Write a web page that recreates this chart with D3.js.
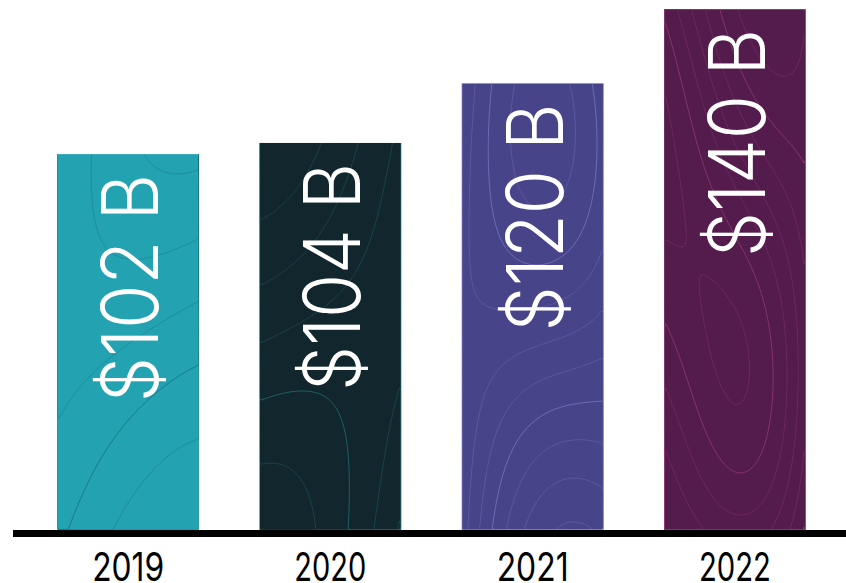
<!DOCTYPE html>
<html>
<head>
<meta charset="utf-8">
<script src="https://cdn.jsdelivr.net/npm/d3@7"></script>
<style>
  body { margin: 0; background: #fff; }
  svg { display: block; }
</style>
</head>
<body>
<svg id="chart" width="846" height="583"></svg>
<script>
// revenue per year
const years = ['2019', '2020', '2021', '2022'];
const values = [101, 104, 120, 140];
const labels = ['$102 B', '$104 B', '$120 B', '$140 B'];
const colors = ['#23a2b2', '#12262d', '#47448a', '#541b4d'];
const lineColors = ['#13606c', '#238a8d', '#8a86d0', '#a8457f'];

const svg = d3.select('#chart'),
  width = +svg.attr('width'),
  height = +svg.attr('height');

const x = d3.scaleBand()
  .domain(years)
  .range([27, 836])
  .paddingInner(0.3)
  .paddingOuter(0.15);

const y = d3.scaleLinear().domain([0, 140]).range([530, 9]);

const defs = svg.append('defs');

const bars = svg.selectAll('g.bar')
  .data(years)
  .join('g')
  .attr('class', 'bar');

bars.each(function (d, i) {
  defs.append('clipPath')
    .attr('id', 'clip' + i)
    .append('rect')
    .attr('x', x(d))
    .attr('y', y(values[i]))
    .attr('width', x.bandwidth())
    .attr('height', y(0) - y(values[i]));
});

bars.append('rect')
  .attr('x', d => x(d))
  .attr('y', (d, i) => y(values[i]))
  .attr('width', x.bandwidth())
  .attr('height', (d, i) => y(0) - y(values[i]))
  .attr('fill', (d, i) => colors[i]);

// decorative topo texture (not data)
const gw = 40, gh = 140;
bars.each(function (d, i) {
  const grid = new Array(gw * gh);
  const a = 0.5 + i * 0.21, b = 0.8 + i * 0.13, c = i * 1.9;
  for (let r = 0; r < gh; ++r) {
    for (let k = 0; k < gw; ++k) {
      const u = k / gw, v = r / gh;
      grid[r * gw + k] = Math.sin(u * 2.5 * a + c) * Math.cos(v * 3 * b)
        + 0.7 * Math.sin((u * 0.6 + v) * 3 + c * 0.5)
        + 0.5 * u;
    }
  }
  const contours = d3.contours().size([gw, gh]).thresholds(9)(grid);
  const sx = x.bandwidth() / gw, sy = (y(0) - y(140)) / gh;
  const g = d3.select(this).append('g')
    .attr('clip-path', 'url(#clip' + i + ')')
    .append('g')
    .attr('transform', 'translate(' + x(d) + ',' + y(140) + ') scale(' + sx + ',' + sy + ')');
  g.selectAll('path')
    .data(contours)
    .join('path')
    .attr('d', d3.geoPath())
    .attr('fill', 'none')
    .attr('stroke', lineColors[i])
    .attr('stroke-opacity', (c, j) => j % 4 === 2 ? 0.6 : 0.3)
    .attr('vector-effect', 'non-scaling-stroke')
    .attr('stroke-width', 1);
});

// value labels, rotated inside the bars
bars.append('text')
  .attr('transform', (d, i) =>
    'translate(' + (x(d) + x.bandwidth() / 2 + 30) + ',' + (y(values[i]) + 20) + ') rotate(-90)')
  .attr('text-anchor', 'end')
  .attr('fill', '#fff')
  .attr('font-family', 'Inter, Lato, sans-serif')
  .attr('font-weight', 300)
  .attr('font-size', 78)
  .attr('textLength', 228)
  .attr('lengthAdjust', 'spacingAndGlyphs')
  .text((d, i) => labels[i]);

// baseline
svg.append('line')
  .attr('x1', 13)
  .attr('x2', width)
  .attr('y1', 533.5)
  .attr('y2', 533.5)
  .attr('stroke', '#000')
  .attr('stroke-width', 7);

// year axis
const xAxis = svg.append('g')
  .attr('transform', 'translate(0,' + 553 + ')')
  .call(d3.axisBottom(x).tickSize(0).tickPadding(0));
xAxis.select('.domain').remove();
xAxis.selectAll('text')
  .attr('dy', '0.71em')
  .attr('y', 0)
  .attr('fill', '#000')
  .attr('font-family', 'Inter, Lato, sans-serif')
  .attr('font-size', 39)
  .attr('textLength', 72)
  .attr('lengthAdjust', 'spacingAndGlyphs');
</script>
</body>
</html>
